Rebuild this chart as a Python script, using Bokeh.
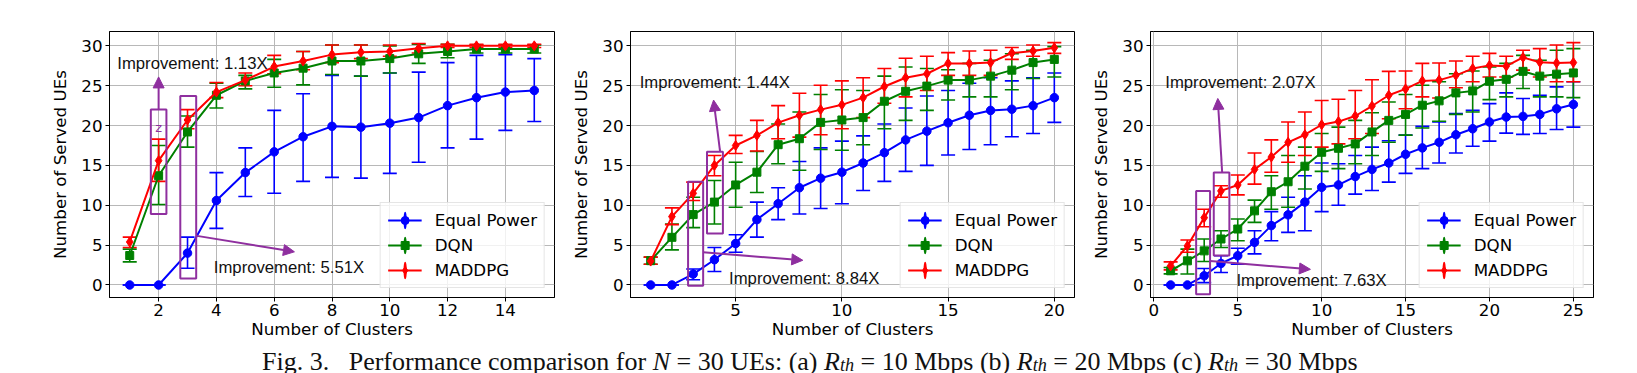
from bokeh.plotting import figure
from bokeh.layouts import row, column
from bokeh.models import (ColumnDataSource, Whisker, TeeHead, Legend, LegendItem,
                          Arrow, NormalHead, BoxAnnotation, Label, Range1d,
                          FixedTicker, Div)
from bokeh.embed import file_html
from bokeh.resources import INLINE

# ---------------- data ----------------
series_names = ["Equal Power", "DQN", "MADDPG"]

# (a) R_th = 10 Mbps
a_clusters = list(range(1, 16))
a_equal = [0, 0, 4.0, 10.6, 14.1, 16.7, 18.6, 19.9, 19.8, 20.3, 21.0, 22.5, 23.5, 24.2, 24.4]
a_equal_lo = [0, 0, 2.1, 7.1, 11.1, 11.5, 13.0, 13.5, 13.4, 14.0, 15.4, 17.2, 18.3, 19.4, 20.5]
a_equal_hi = [0, 0, 6.0, 14.1, 17.2, 21.9, 24.0, 26.3, 26.2, 26.6, 26.7, 27.9, 28.8, 28.9, 28.4]
a_dqn = [3.7, 13.7, 19.2, 23.8, 25.6, 26.6, 27.2, 28.1, 28.1, 28.4, 29.0, 29.3, 29.6, 29.6, 29.6]
a_dqn_lo = [2.9, 10.1, 17.3, 22.2, 24.6, 24.8, 25.1, 26.4, 26.2, 26.6, 27.8, 28.5, 29.1, 29.1, 29.1]
a_dqn_hi = [4.5, 17.5, 21.2, 25.3, 26.3, 28.3, 29.3, 30.1, 30.1, 30.0, 30.2, 30.2, 30.1, 30.1, 30.1]
a_mad = [5.4, 15.6, 20.7, 24.2, 25.7, 27.4, 28.1, 28.9, 29.2, 29.3, 29.7, 30.0, 30.0, 30.0, 30.0]
a_mad_lo = [4.7, 13.0, 19.6, 23.5, 25.0, 26.5, 27.0, 27.9, 28.4, 28.7, 29.1, 29.8, 29.8, 29.8, 29.8]
a_mad_hi = [6.0, 18.3, 22.0, 25.4, 26.6, 28.8, 29.3, 30.1, 30.1, 30.1, 30.3, 30.2, 30.2, 30.2, 30.2]

# (b) R_th = 20 Mbps
b_clusters = list(range(1, 21))
b_equal = [0, 0, 1.37, 3.17, 5.2, 8.2, 10.2, 12.2, 13.4, 14.15, 15.3, 16.6, 18.2, 19.3, 20.35, 21.3, 21.9, 22.05, 22.5, 23.5]
b_equal_lo = [0, 0, 0.65, 1.7, 4.1, 6.0, 8.2, 8.9, 9.6, 10.2, 11.85, 13.0, 14.25, 15.0, 16.3, 17.0, 17.6, 18.6, 19.0, 20.4]
b_equal_hi = [0, 0, 2.0, 4.7, 6.3, 10.4, 12.2, 15.5, 17.2, 18.05, 18.7, 20.2, 22.2, 23.7, 24.4, 25.3, 26.0, 25.6, 26.0, 26.6]
b_dqn = [3.05, 5.98, 8.83, 10.4, 12.55, 14.15, 17.6, 18.35, 20.4, 20.7, 21.0, 23.05, 24.3, 24.95, 25.7, 25.7, 26.2, 26.95, 27.9, 28.3]
b_dqn_lo = [2.6, 4.4, 7.2, 7.65, 9.75, 11.6, 15.2, 14.4, 17.0, 16.9, 17.6, 19.6, 20.65, 21.9, 23.2, 23.6, 23.6, 24.5, 25.9, 26.1]
b_dqn_hi = [3.5, 7.65, 11.0, 13.1, 15.4, 16.75, 20.2, 21.7, 23.9, 24.5, 24.4, 26.2, 27.35, 27.15, 27.0, 27.8, 28.2, 29.0, 29.45, 29.9]
b_mad = [3.0, 8.58, 11.5, 15.0, 17.5, 18.77, 20.37, 21.3, 22.0, 22.6, 23.5, 24.9, 26.0, 26.5, 27.8, 27.8, 27.9, 29.1, 29.35, 29.75]
b_mad_lo = [2.6, 7.57, 10.6, 13.7, 16.5, 16.8, 18.35, 18.55, 18.85, 19.6, 21.0, 22.8, 23.6, 24.4, 26.3, 26.3, 26.3, 28.3, 28.7, 29.05]
b_mad_hi = [3.5, 9.67, 12.9, 16.25, 18.77, 20.65, 22.5, 24.05, 25.05, 25.6, 26.0, 27.15, 28.45, 28.7, 29.15, 29.35, 29.45, 29.8, 30.1, 30.4]

# (c) R_th = 30 Mbps
c_clusters = list(range(1, 26))
c_equal = [0, 0, 1.15, 2.7, 3.67, 5.35, 7.45, 8.8, 10.4, 12.25, 12.55, 13.6, 14.5, 15.3, 16.4, 17.2, 17.9, 18.85, 19.6, 20.45, 21.07, 21.15, 21.4, 22.1, 22.65]
c_equal_lo = [0, 0, 0.3, 1.57, 2.6, 3.9, 5.55, 6.6, 6.8, 9.2, 10.0, 11.4, 11.85, 12.9, 14.0, 14.6, 15.3, 16.55, 17.4, 18.05, 19.05, 18.9, 19.0, 19.5, 19.8]
c_equal_hi = [0, 0, 2.07, 3.67, 4.6, 6.8, 9.2, 11.0, 13.7, 15.3, 15.2, 16.25, 17.3, 18.1, 18.8, 19.9, 20.45, 21.5, 21.9, 22.75, 24.1, 23.4, 23.8, 24.85, 25.5]
c_dqn = [1.78, 3.03, 4.28, 5.77, 7.02, 9.3, 11.7, 12.95, 14.9, 16.65, 17.15, 17.7, 19.2, 20.65, 21.4, 22.55, 23.1, 24.1, 24.35, 25.55, 25.8, 26.8, 26.2, 26.45, 26.6]
c_dqn_lo = [1.4, 1.37, 2.95, 4.7, 5.55, 7.85, 9.5, 9.75, 12.05, 14.25, 14.6, 15.2, 16.25, 17.9, 18.8, 19.7, 20.55, 21.4, 21.7, 23.25, 23.6, 24.65, 23.6, 23.6, 23.5]
c_dqn_hi = [2.2, 4.5, 5.77, 6.8, 8.28, 10.65, 13.7, 16.25, 17.3, 19.0, 19.8, 20.65, 21.6, 22.95, 23.9, 25.05, 25.5, 26.5, 26.85, 27.35, 27.8, 28.8, 28.2, 29.45, 29.65]
c_mad = [2.4, 4.9, 8.45, 11.8, 12.55, 14.5, 16.05, 17.9, 18.85, 20.1, 20.5, 21.2, 22.45, 23.8, 24.6, 25.6, 25.7, 26.3, 27.15, 27.55, 27.45, 28.55, 27.95, 27.85, 27.9]
c_mad_lo = [1.9, 4.1, 7.3, 11.0, 11.3, 12.65, 14.15, 15.4, 16.25, 17.3, 17.7, 18.35, 19.0, 20.85, 22.1, 23.6, 23.45, 24.75, 25.5, 26.1, 26.1, 26.95, 26.1, 25.5, 25.5]
c_mad_hi = [2.9, 5.65, 9.5, 12.45, 13.8, 16.55, 18.2, 20.45, 21.7, 23.15, 23.3, 24.4, 25.75, 26.8, 26.85, 27.8, 27.85, 28.1, 28.7, 29.05, 28.7, 29.45, 29.65, 30.1, 30.4]

# tick labels
a_xticks = [2, 4, 6, 8, 10, 12, 14]
b_xticks = [5, 10, 15, 20]
c_xticks = [0, 5, 10, 15, 20, 25]
y_ticks = [0, 5, 10, 15, 20, 25, 30]

# annotation texts
a_improve = ["Improvement: 1.13X", "Improvement: 5.51X"]
b_improve = ["Improvement: 1.44X", "Improvement: 8.84X"]
c_improve = ["Improvement: 2.07X", "Improvement: 7.63X"]

SUB = '<span style="font-size:0.7em;vertical-align:-0.08em;line-height:0">th</span>'
caption_html = ("Fig. 3.&nbsp;&nbsp;&nbsp;Performance comparison for <i>N</i> = 30 UEs: "
                "(a) <i>R" + SUB + "</i> = 10 Mbps (b) <i>R" + SUB + "</i> = 20 Mbps "
                "(c) <i>R" + SUB + "</i> = 30 Mbps")

# ---------------- styles ----------------
COLORS = ["#0000ff", "#008000", "#ff0000"]
MARKERS = ["circle", "square", "diamond"]
MSIZE = [8.5, 8, 10]
PURPLE = "#8f2f9f"
TICK_FONT = "DejaVu Sans"
FS = "16.7px"

# annotation layout (data coordinates of boxes / arrows / labels)
a_ann = dict(boxes=[(1.73, 2.27, 8.9, 22.0), (2.75, 3.30, 0.8, 23.7)],
             arrows=[(2.0, 22.0, 2.0, 26.1), (3.33, 6.16, 6.7, 4.16)],
             labels=[(0.57, 27.75), (3.91, 2.2)], z=(2.0, 19.8))
b_ann = dict(boxes=[(2.76, 3.47, -0.1, 12.95), (3.65, 4.40, 6.45, 16.7)],
             arrows=[(4.27, 16.7, 3.96, 23.2), (3.47, 4.1, 8.16, 3.1)],
             labels=[(0.48, 25.4), (4.69, 0.8)], z=None)
c_ann = dict(boxes=[(2.52, 3.35, -1.15, 11.8), (3.57, 4.50, 3.7, 14.1)],
             arrows=[(4.07, 14.1, 3.81, 23.4), (3.37, 3.0, 9.33, 1.96)],
             labels=[(0.68, 25.4), (4.92, 0.6)], z=None)


def make_panel(xs, ser, xr, xticks, ann, texts, border_left, frame_w, border_right):
    p = figure(output_backend="svg", toolbar_location=None,
               frame_width=frame_w, frame_height=266,
               min_border_left=border_left, min_border_right=border_right,
               min_border_top=31, min_border_bottom=45,
               x_range=Range1d(*xr), y_range=Range1d(-1.57, 31.8),
               background_fill_color="white", border_fill_color="white")
    p.outline_line_color = "black"
    p.outline_line_width = 1
    p.xaxis.ticker = FixedTicker(ticks=xticks)
    p.yaxis.ticker = FixedTicker(ticks=y_ticks)
    p.xaxis.axis_label = "Number of Clusters"
    p.yaxis.axis_label = "Number of Served UEs"
    for ax in (p.xaxis[0], p.yaxis[0]):
        ax.axis_label_text_font = TICK_FONT
        ax.axis_label_text_font_size = FS
        ax.axis_label_text_font_style = "normal"
        ax.axis_label_text_color = "black"
        ax.major_label_text_font = TICK_FONT
        ax.major_label_text_font_size = FS
        ax.major_label_text_color = "black"
        ax.axis_line_color = "black"
        ax.major_tick_line_color = "black"
        ax.major_tick_out = 4
        ax.major_tick_in = 0
        ax.minor_tick_line_color = None
        ax.major_label_standoff = 3
    p.xaxis.major_label_standoff = 2
    p.xaxis.axis_label_standoff = 0
    p.yaxis.axis_label_standoff = 8
    p.grid.grid_line_color = "#b8b8b8"
    p.grid.grid_line_width = 1

    items = []
    for (name, (y, lo, hi), color, marker, ms) in zip(series_names, ser, COLORS, MARKERS, MSIZE):
        src = ColumnDataSource(dict(x=xs, y=y, lo=lo, hi=hi))
        w = Whisker(base="x", upper="hi", lower="lo", source=src, dimension="height",
                    line_color=color, line_width=1.6,
                    upper_head=TeeHead(size=14, line_color=color, line_width=1.6),
                    lower_head=TeeHead(size=14, line_color=color, line_width=1.6))
        p.add_layout(w)
        # tiny upright ellipse: hidden under each marker, drawn as the
        # vertical error-bar stroke of the legend glyph
        eb = p.ellipse("x", "y", source=src, width=0.02, height=0.2,
                       width_units="screen", height_units="screen",
                       fill_alpha=0, line_color=color, line_width=1.6)
        ln = p.line("x", "y", source=src, line_color=color, line_width=2)
        mk = p.scatter("x", "y", source=src, marker=marker, size=ms,
                       fill_color=color, line_color=color)
        items.append(LegendItem(label=name, renderers=[eb, ln, mk]))

    for (l, r, b, t) in ann["boxes"]:
        p.add_layout(BoxAnnotation(left=l, right=r, bottom=b, top=t,
                                   fill_alpha=0, line_alpha=1.0,
                                   line_color=PURPLE, line_width=2, level="overlay"))
    for (x0, y0, x1, y1) in ann["arrows"]:
        p.add_layout(Arrow(x_start=x0, y_start=y0, x_end=x1, y_end=y1,
                           line_color=PURPLE, line_width=2,
                           end=NormalHead(size=11, fill_color=PURPLE, line_color=PURPLE)))
    for (x, y), t in zip(ann["labels"], texts):
        p.add_layout(Label(x=x, y=y, text=t, text_font="Liberation Sans",
                           text_font_size=FS, text_color="#111111",
                           text_align="left", text_baseline="middle"))
    if ann["z"] is not None:
        p.add_layout(Label(x=ann["z"][0], y=ann["z"][1], text="z", text_font=TICK_FONT,
                           text_font_size="13px", text_color=PURPLE,
                           text_align="center", text_baseline="middle"))

    leg = Legend(items=items, location="bottom_right", margin=9, padding=7, spacing=5,
                 glyph_width=34, glyph_height=20, label_height=20, label_standoff=13,
                 label_text_font=TICK_FONT, label_text_font_size=FS,
                 label_text_color="black",
                 border_line_color="#cccccc", border_line_width=1,
                 background_fill_color="white", background_fill_alpha=0.8)
    p.add_layout(leg)
    return p


pa = make_panel(a_clusters, [(a_equal, a_equal_lo, a_equal_hi), (a_dqn, a_dqn_lo, a_dqn_hi),
                             (a_mad, a_mad_lo, a_mad_hi)],
                (0.3, 15.7), a_xticks, a_ann, a_improve, 109, 445, 14)
pb = make_panel(b_clusters, [(b_equal, b_equal_lo, b_equal_hi), (b_dqn, b_dqn_lo, b_dqn_hi),
                             (b_mad, b_mad_lo, b_mad_hi)],
                (0.05, 20.95), b_xticks, b_ann, b_improve, 58, 444, 14)
pc = make_panel(c_clusters, [(c_equal, c_equal_lo, c_equal_hi), (c_dqn, c_dqn_lo, c_dqn_hi),
                             (c_mad, c_mad_lo, c_mad_hi)],
                (-0.2, 26.2), c_xticks, c_ann, c_improve, 58, 443, 12)

cap = Div(text=caption_html, width=1600, height=30,
          styles={"font-family": "Liberation Serif", "font-size": "26px",
                  "line-height": "29px", "white-space": "nowrap",
                  "padding-left": "257px", "color": "#111111"})

layout = column(row(pa, pb, pc, spacing=0), cap, spacing=0)
open("out.html", "w").write(file_html(layout, INLINE))
